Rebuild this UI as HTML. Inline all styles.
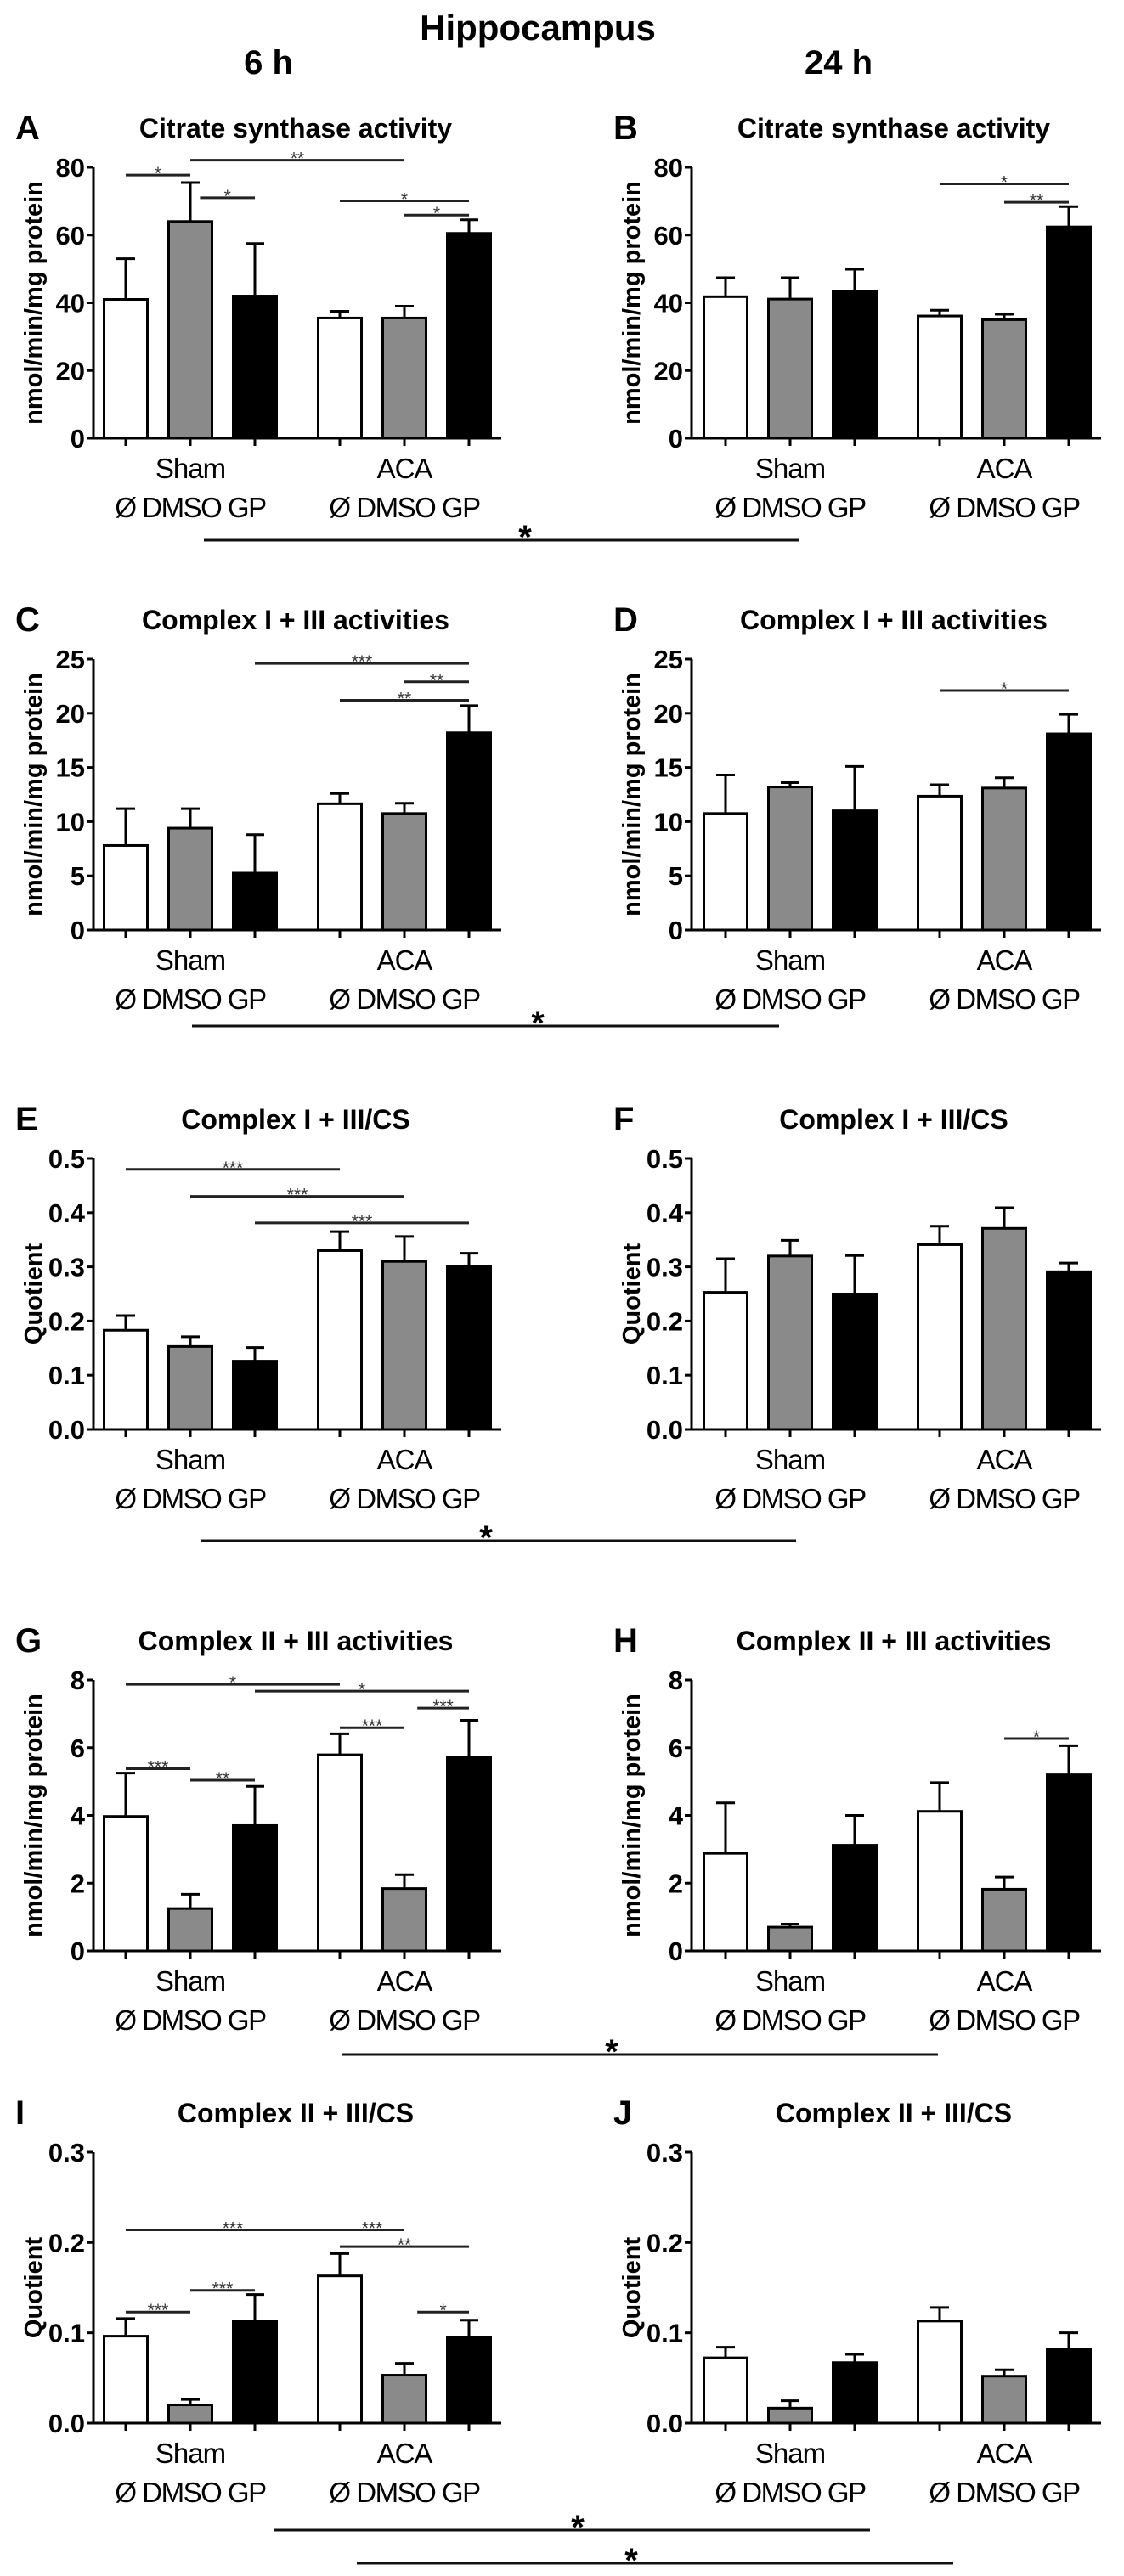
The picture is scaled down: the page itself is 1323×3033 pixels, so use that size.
<!DOCTYPE html>
<html><head><meta charset="utf-8"><style>
html,body{margin:0;padding:0;background:#fff;}
svg{display:block;font-family:"Liberation Sans",Arial,sans-serif;}
</style></head><body>
<svg id="fig" width="1323" height="3033" viewBox="0 0 1323 3033" xmlns="http://www.w3.org/2000/svg">
<rect width="1323" height="3033" fill="#fff"/>
<text x="633" y="47" font-size="42" font-weight="bold" text-anchor="middle">Hippocampus</text>
<text x="316" y="87" font-size="40" font-weight="bold" text-anchor="middle">6 h</text>
<text x="987" y="87" font-size="40" font-weight="bold" text-anchor="middle">24 h</text>
<g id="plots"></g>
</svg>
<script>
// ---- data arrays (order: Sham Ø, Sham DMSO, Sham GP, ACA Ø, ACA DMSO, ACA GP) ----
const groupLabels = ['Sham', 'ACA'];
const treatLabel = 'Ø DMSO GP';
const aMean = [41, 64, 42, 35.5, 35.5, 60.5];
const aErr  = [53, 75.5, 57.5, 37.5, 39, 64.5];
const bMean = [41.8, 41.1, 43.3, 36.1, 35.0, 62.4];
const bErr  = [47.4, 47.4, 49.9, 37.8, 36.6, 68.4];
const cMean = [7.8, 9.4, 5.25, 11.65, 10.75, 18.2];
const cErr  = [11.2, 11.2, 8.8, 12.6, 11.7, 20.7];
const dMean = [10.75, 13.2, 11.0, 12.35, 13.1, 18.1];
const dErr  = [14.3, 13.6, 15.1, 13.4, 14.05, 19.9];
const eMean = [0.183, 0.153, 0.126, 0.330, 0.310, 0.301];
const eErr  = [0.210, 0.171, 0.151, 0.365, 0.356, 0.325];
const fMean = [0.253, 0.320, 0.250, 0.341, 0.371, 0.291];
const fErr  = [0.315, 0.349, 0.321, 0.375, 0.409, 0.307];
const gMean = [3.97, 1.25, 3.70, 5.79, 1.84, 5.72];
const gErr  = [5.25, 1.67, 4.86, 6.41, 2.25, 6.81];
const hMean = [2.88, 0.70, 3.12, 4.12, 1.82, 5.2];
const hErr  = [4.37, 0.79, 4.0, 4.97, 2.18, 6.06];
const iMean = [0.0963, 0.0202, 0.1133, 0.163, 0.0531, 0.0953];
const iErr  = [0.1158, 0.0262, 0.1424, 0.1877, 0.0662, 0.114];
const jMean = [0.0723, 0.0166, 0.067, 0.113, 0.052, 0.082];
const jErr  = [0.084, 0.0248, 0.0762, 0.128, 0.059, 0.100];
const ticks80 = [0, 20, 40, 60, 80];
const ticks25 = [0, 5, 10, 15, 20, 25];
const ticks05 = [0.0, 0.1, 0.2, 0.3, 0.4, 0.5];
const ticks8  = [0, 2, 4, 6, 8];
const ticks03 = [0.0, 0.1, 0.2, 0.3];
// significance brackets: [fromBar, toBar, yValue, label]
const aSig = [[0,1,77.7,'*'],[1,4,82.1,'**'],[1.15,2,71,'*'],[3,5,70.1,'*'],[4,5,65.9,'*']];
const bSig = [[3,5,75.1,'*'],[4,5,69.7,'**']];
const cSig = [[2,5,24.6,'***'],[4,5,22.9,'**'],[3,5,21.2,'**']];
const dSig = [[3,5,22.1,'*']];
const eSig = [[0,3,0.480,'***'],[1,4,0.430,'***'],[2,5,0.381,'***']];
const fSig = [];
const gSig = [[0,3,7.87,'*'],[2,5,7.67,'*'],[4.2,5,7.17,'***'],[3,4,6.59,'***'],[0,1,5.38,'***'],[1,2,5.04,'**']];
const hSig = [[4,5,6.27,'*']];
const iSig = [[0,3,0.214,'***'],[3,4,0.214,'***'],[3,5,0.1955,'**'],[1,2,0.147,'***'],[0,1,0.123,'***'],[4.2,5,0.123,'*']];
const jSig = [];
// long group-effect lines: [x1, x2, y, starX]
const bigSig = [[240,940,636,618],[226,917,1208,633],[236,937,1814,572],[403,1104,2419,720],[322,1024,2979,680],[420,1122,3018,743]];

const NS = 'http://www.w3.org/2000/svg';
const root = document.getElementById('plots');
const rowZero = [516, 1095, 1683, 2297, 2853];
const colAxis = [110, 814];
const colBar0 = [148, 854];
const PH = 319, BW = 51, STEP = 76, GAP = 24;
const fills = ['#ffffff', '#8a8a8a', '#000000', '#ffffff', '#8a8a8a', '#000000'];
const LAB = 'nmol/min/mg protein';

const panels = [
  {L:'A', t:'Citrate synthase activity', m:aMean, e:aErr, tk:ticks80, max:80, y:LAB, c:0, r:0, s:aSig, dec:0},
  {L:'B', t:'Citrate synthase activity', m:bMean, e:bErr, tk:ticks80, max:80, y:LAB, c:1, r:0, s:bSig, dec:0},
  {L:'C', t:'Complex I + III activities', m:cMean, e:cErr, tk:ticks25, max:25, y:LAB, c:0, r:1, s:cSig, dec:0},
  {L:'D', t:'Complex I + III activities', m:dMean, e:dErr, tk:ticks25, max:25, y:LAB, c:1, r:1, s:dSig, dec:0},
  {L:'E', t:'Complex I + III/CS', m:eMean, e:eErr, tk:ticks05, max:0.5, y:'Quotient', c:0, r:2, s:eSig, dec:1},
  {L:'F', t:'Complex I + III/CS', m:fMean, e:fErr, tk:ticks05, max:0.5, y:'Quotient', c:1, r:2, s:fSig, dec:1},
  {L:'G', t:'Complex II + III activities', m:gMean, e:gErr, tk:ticks8, max:8, y:LAB, c:0, r:3, s:gSig, dec:0},
  {L:'H', t:'Complex II + III activities', m:hMean, e:hErr, tk:ticks8, max:8, y:LAB, c:1, r:3, s:hSig, dec:0},
  {L:'I', t:'Complex II + III/CS', m:iMean, e:iErr, tk:ticks03, max:0.3, y:'Quotient', c:0, r:4, s:iSig, dec:1},
  {L:'J', t:'Complex II + III/CS', m:jMean, e:jErr, tk:ticks03, max:0.3, y:'Quotient', c:1, r:4, s:jSig, dec:1}
];

function mk(tag, attrs, parent, txt) {
  const el = document.createElementNS(NS, tag);
  for (const k in attrs) el.setAttribute(k, attrs[k]);
  if (txt !== undefined) el.textContent = txt;
  parent.appendChild(el);
  return el;
}

panels.forEach(p => {
  const zero = rowZero[p.r], ax = colAxis[p.c], b0 = colBar0[p.c];
  const yS = v => zero - v / p.max * PH;
  const xS = i => { const f = Math.floor(i), fr = i - f;
    const cx = k => b0 + k * STEP + (k >= 3 ? GAP : 0);
    return fr ? cx(f) + fr * (cx(f + 1) - cx(f)) : cx(f); };
  const g = mk('g', {}, root);
  
  
  const tY = zero - 366;
  const lt = mk('text', {x: ax - 92, y: tY + 14, 'font-size': 40, 'font-weight': 'bold'}, g, p.L);
  
  
  const tt = mk('text', {x: ax + 238, y: tY + 12, 'font-size': 32, 'font-weight': 'bold', 'text-anchor': 'middle'}, g, p.t);
  
  
  const yt = mk('text', {x: 0, y: 0, 'font-size': 29, 'font-weight': 'bold', 'text-anchor': 'middle', 'dominant-baseline': 'central', transform: `translate(${ax - 70},${zero - PH / 2}) rotate(-90)`}, g, p.y);
  
  
  p.m.forEach((v, i) => {
    const cx = xS(i);
    const r = mk('rect', {x: cx - BW / 2, y: yS(v), width: BW, height: zero - yS(v), fill: fills[i], stroke: '#000', 'stroke-width': 3}, g);
    
    
    const el = mk('path', {d: `M${cx},${yS(v)}V${yS(p.e[i])}M${cx - 11},${yS(p.e[i])}H${cx + 11}`, stroke: '#000', 'stroke-width': 3, fill: 'none'}, g);
    
    
  });
  const xEnd = xS(5) + 38;
  const axes = mk('path', {d: `M${ax},${zero - PH}V${zero}H${xEnd}`, stroke: '#000', 'stroke-width': 3, fill: 'none'}, g);
  
  
  p.tk.forEach(t => {
    const y = yS(t);
    const tl = mk('path', {d: `M${ax - 8},${y}H${ax}`, stroke: '#000', 'stroke-width': 3}, g);
    
    
    const lb = mk('text', {x: ax - 10, y: y + 11, 'font-size': 31, 'font-weight': 'bold', 'text-anchor': 'end'}, g, t.toFixed(p.dec));
    
    
  });
  for (let i = 0; i < 6; i++) {
    const xt = mk('path', {d: `M${xS(i)},${zero}V${zero + 9}`, stroke: '#000', 'stroke-width': 3}, g);
    
    
  }
  groupLabels.forEach((gl, k) => {
    const cx = xS(1 + 3 * k);
    const a = mk('text', {x: cx, y: zero + 47, 'font-size': 33, 'text-anchor': 'middle', 'letter-spacing': -1}, g, gl);
    
    
    const b = mk('text', {x: cx, y: zero + 93, 'font-size': 33, 'text-anchor': 'middle', 'letter-spacing': -1.5}, g, treatLabel);
    
    
  });
  p.s.forEach(s => {
    const y = yS(s[2]);
    const ln = mk('path', {d: `M${xS(s[0])},${y}H${xS(s[1])}`, stroke: '#222', 'stroke-width': 3}, g);
    
    
    const st = mk('text', {x: (xS(s[0]) + xS(s[1])) / 2, y: y + 5, 'font-size': 21, fill: '#333', 'text-anchor': 'middle'}, g, s[3]);
    
    
  });
});

bigSig.forEach(b => {
  const ln = mk('path', {d: `M${b[0]},${b[2]}H${b[1]}`, stroke: '#111', 'stroke-width': 3}, root);
  
  
  const st = mk('text', {x: b[3], y: b[2] + 10, 'font-size': 40, 'font-weight': 'bold', 'text-anchor': 'middle'}, root, '*');
  
  
});
</script>
</body></html>
